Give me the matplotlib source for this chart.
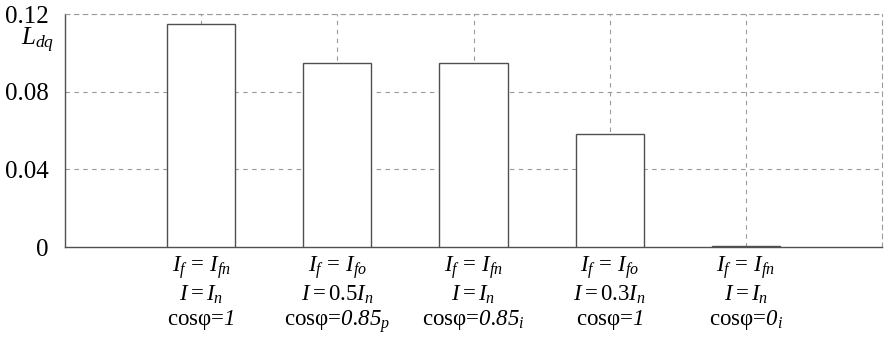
import numpy as np
import matplotlib
matplotlib.use('Agg')
import matplotlib.pyplot as plt

# 数据
cases = [1, 2, 3, 4, 5]
ldq = [0.115, 0.095, 0.095, 0.058, 0.0004]
line1 = [r'$I_f\,=\,I_{fn}$', r'$I_f\,=\,I_{fo}$', r'$I_f\,=\,I_{fn}$', r'$I_f\,=\,I_{fo}$', r'$I_f\,=\,I_{fn}$']
line2 = [r'$I = I_n$', r'$I = 0.5I_n$', r'$I = I_n$', r'$I = 0.3I_n$', r'$I = I_n$']
line3 = [r'cosφ=$\mathsf{1}$', r'cosφ=$\mathsf{0.85}_p$', r'cosφ=$\mathsf{0.85}_i$',
         r'cosφ=$\mathsf{1}$', r'cosφ=$\mathsf{0}_i$']
yticks = [0, 0.04, 0.08, 0.12]
ylabels = ['0', '0.04', '0.08', '0.12']

plt.rcParams['font.family'] = ['Liberation Serif', 'DejaVu Serif']
plt.rcParams['mathtext.fontset'] = 'custom'
plt.rcParams['mathtext.rm'] = 'Liberation Serif'
plt.rcParams['mathtext.it'] = 'Liberation Serif:italic'
plt.rcParams['mathtext.bf'] = 'Liberation Serif:bold'
# 用 sf 槽位放斜体数字
plt.rcParams['mathtext.sf'] = 'Liberation Serif:italic'

fig = plt.figure(figsize=(8.86, 3.37), dpi=100)
ax = fig.add_axes([0.0734, 0.267, 0.9221, 0.691])

grid_kw = dict(color='#9a9a9a', linestyle=(0, (4, 4)), linewidth=0.8, zorder=1)
for y in yticks[1:]:
    ax.axhline(y, **grid_kw)
for x in cases:
    ax.axvline(x, **grid_kw)

ax.bar(cases, ldq, width=0.5, color='white', edgecolor='#505050', linewidth=1.0, zorder=3)

ax.set_xlim(0, 6)
ax.set_ylim(0, 0.12)
ax.set_yticks(yticks)
ax.set_yticklabels(ylabels, fontsize=18)
ax.set_xticks(cases)
labels = [a + '\n' + b + '\n' + c for a, b, c in zip(line1, line2, line3)]
ax.set_xticklabels(labels, fontsize=16.5, linespacing=1.15)
ax.tick_params(axis='both', length=0)
ax.tick_params(axis='y', pad=12)
ax.tick_params(axis='x', pad=5)

for s in ['left', 'bottom']:
    ax.spines[s].set_color('#505050')
    ax.spines[s].set_linewidth(1.0)
for s in ['top', 'right']:
    ax.spines[s].set_color('#9a9a9a')
    ax.spines[s].set_linestyle((0, (4, 4)))
    ax.spines[s].set_linewidth(0.8)

fig.text(38 / 886, 1 - 40 / 337, r'$L_{dq}$', fontsize=18, ha='center', va='center')

plt.savefig('out.png', dpi=100)
